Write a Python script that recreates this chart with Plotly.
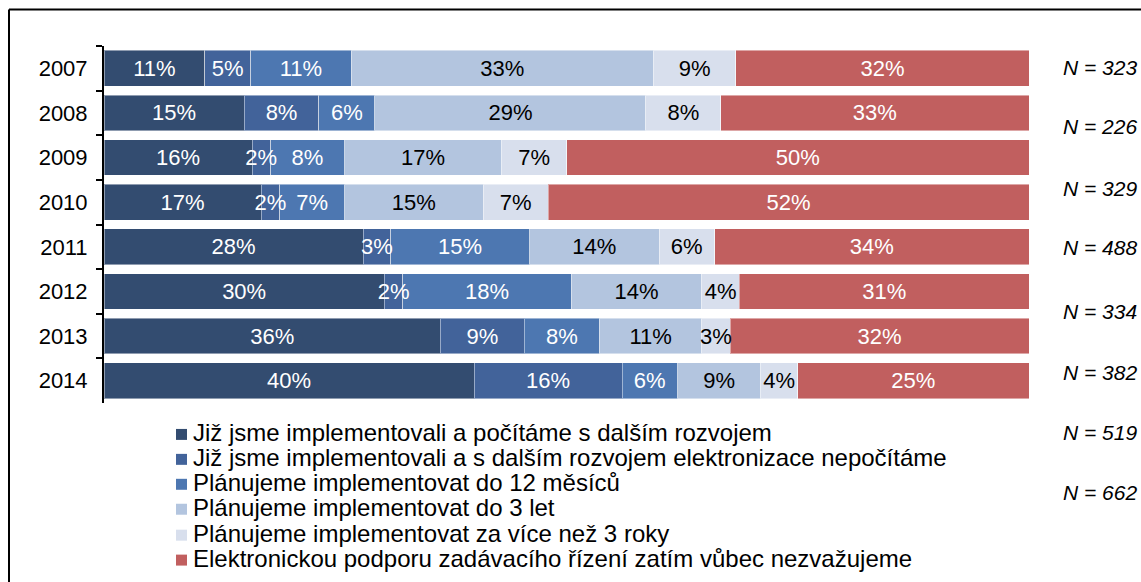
import plotly.graph_objects as go

years = ['2007', '2008', '2009', '2010', '2011', '2012', '2013', '2014']
s1 = [11, 15, 16, 17, 28, 30, 36, 40]
s2 = [5, 8, 2, 2, 3, 2, 9, 16]
s3 = [11, 6, 8, 7, 15, 18, 8, 6]
s4 = [33, 29, 17, 15, 14, 14, 11, 9]
s5 = [9, 8, 7, 7, 6, 4, 3, 4]
s6 = [32, 33, 50, 52, 34, 31, 32, 25]
series_names = [
    'Již jsme implementovali a počítáme s dalším rozvojem',
    'Již jsme implementovali a s dalším rozvojem elektronizace nepočítáme',
    'Plánujeme implementovat do 12 měsíců',
    'Plánujeme implementovat do 3 let',
    'Plánujeme implementovat za více než 3 roky',
    'Elektronickou podporu zadávacího řízení zatím vůbec nezvažujeme',
]
n_values = [323, 226, 329, 488, 334, 382, 519, 662]

colors = ['#334C70', '#42639A', '#4D77B1', '#B3C5DF', '#D8DFED', '#C15F5F']
text_colors = ['white', 'white', 'white', 'black', 'black', 'white']
FONT = 'Arial, Liberation Sans, sans-serif'

W, H = 1141, 582
L, R = 104, 1029
T, B = 45.6, 403.5


def px_x(px):
    return (px - L) / (R - L)


def px_y(py):
    return (B - py) / (B - T)


fig = go.Figure()
all_series = [s1, s2, s3, s4, s5, s6]
# coloured segments
for vals, name, col in zip(all_series, series_names, colors):
    fig.add_trace(go.Bar(
        y=years, x=vals, name=name, orientation='h',
        marker=dict(color=col, line=dict(color='rgba(255,255,255,0.45)', width=1)),
        hoverinfo='skip', showlegend=False,
    ))
# value labels on an overlaid axis, so they are drawn above every segment
for vals, name, tc in zip(all_series, series_names, text_colors):
    fig.add_trace(go.Bar(
        y=years, x=vals, name=name, orientation='h', xaxis='x2',
        marker=dict(color='rgba(0,0,0,0)', line=dict(width=0)),
        text=[f'{v}%' for v in vals], textposition='inside', insidetextanchor='middle',
        textangle=0, textfont=dict(color=tc, size=22, family=FONT),
        hoverinfo='skip', showlegend=False,
    ))

# N labels on the right
n_y_px = [67, 126, 188, 248, 312, 373, 433, 493]
for n, ypx in zip(n_values, n_y_px):
    fig.add_annotation(
        x=px_x(1061), y=px_y(ypx), xref='paper', yref='paper',
        text=f'<i>N = {n}</i>', showarrow=False, xanchor='left', yanchor='middle',
        font=dict(size=21, color='black', family=FONT),
    )

# legend (drawn manually for the tight line spacing of the original)
leg_y_px = [435, 460, 485, 510, 536, 561]
for name, col, ypx in zip(series_names, colors, leg_y_px):
    fig.add_shape(type='rect', xref='paper', yref='paper',
                  x0=px_x(176), x1=px_x(187), y0=px_y(ypx - 5.5), y1=px_y(ypx + 5.5),
                  fillcolor=col, line=dict(width=0))
    fig.add_annotation(
        x=px_x(191), y=px_y(ypx - 2), xref='paper', yref='paper',
        text=name, showarrow=False, xanchor='left', yanchor='middle',
        font=dict(size=24, color='black', family=FONT),
    )

# frame
fig.add_shape(type='line', xref='paper', yref='paper',
              x0=px_x(9), x1=px_x(1200), y0=px_y(9), y1=px_y(9),
              line=dict(color='black', width=2))
fig.add_shape(type='line', xref='paper', yref='paper',
              x0=px_x(9), x1=px_x(9), y0=px_y(9), y1=px_y(650),
              line=dict(color='black', width=2))

fig.update_layout(
    width=W, height=H,
    barmode='stack', barnorm='percent', bargap=0.2,
    margin=dict(l=L, r=W - R, t=T, b=H - B, pad=0),
    paper_bgcolor='white', plot_bgcolor='white',
    font=dict(family=FONT, color='black'),
    uniformtext=dict(minsize=22, mode='show'),
    xaxis=dict(range=[0, 100], visible=False, fixedrange=True),
    xaxis2=dict(range=[0, 100], visible=False, fixedrange=True, overlaying='x'),
    yaxis=dict(autorange='reversed', showline=True, linecolor='black', linewidth=2,
               ticks='outside', tickson='boundaries', ticklen=6, tickwidth=2, tickcolor='black',
               tickfont=dict(size=22, color='black', family=FONT), ticklabelstandoff=10,
               showgrid=False, zeroline=False, fixedrange=True),
    showlegend=False,
)

fig.write_html(
    'out.html',
    config={'displayModeBar': False},
    post_script="document.body.style.margin='0';document.body.style.overflow='hidden';",
)
